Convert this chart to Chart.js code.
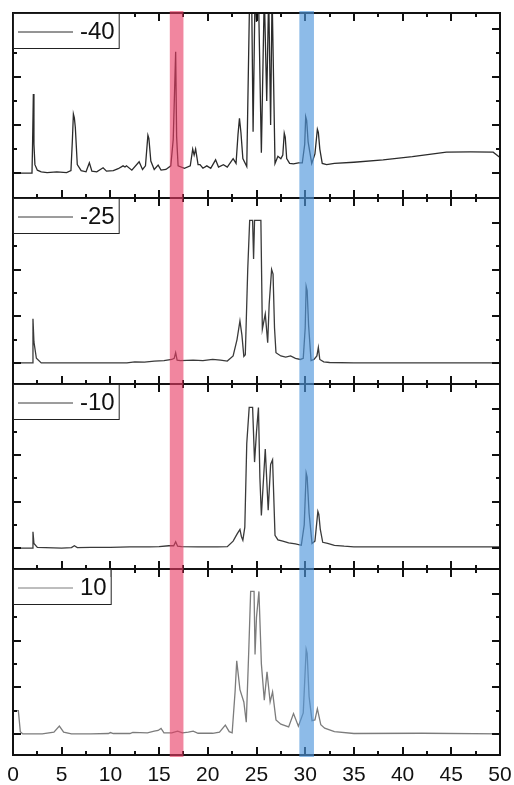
<!DOCTYPE html>
<html>
<head>
<meta charset="utf-8">
<script src="https://cdn.jsdelivr.net/npm/chart.js@4.4.1/dist/chart.umd.min.js"></script>
<style>
  body { margin: 0; background: #fff; }
  #fig { position: relative; width: 514px; height: 785px; }
  #fig canvas { position: absolute; left: 0; }
</style>
</head>
<body>
<div id="fig">
  <canvas id="c1" width="514" height="198" style="top:0px"></canvas>
  <canvas id="c2" width="514" height="186" style="top:198px"></canvas>
  <canvas id="c3" width="514" height="185" style="top:384px"></canvas>
  <canvas id="c4" width="514" height="216" style="top:569px"></canvas>
</div>
<script>
// series labels, top panel to bottom panel
const labels = ['-40', '-25', '-10', '10'];
const xTickValues = [0, 5, 10, 15, 20, 25, 30, 35, 40, 45, 50];
// highlighted ranges on the x axis (red, blue)
const bands = [[16.1, 17.5], [29.4, 30.9]];

const x_m40 = [0, 1.95, 2.0, 2.09, 2.15, 2.25, 2.5, 2.9, 3.5, 4.5, 5.5, 5.95, 6.1, 6.2, 6.3, 6.4, 6.6, 7.0, 7.5, 7.84, 8.1, 8.6, 9.25, 9.6, 10.3, 10.8, 11.3, 11.5, 11.65, 12.2, 12.95, 13.3, 13.6, 13.85, 13.95, 14.15, 14.5, 14.9, 15.2, 15.7, 16.2, 16.45, 16.7, 16.8, 16.95, 17.6, 18.2, 18.45, 18.6, 18.75, 19.0, 19.2, 19.5, 19.9, 20.3, 20.8, 21.1, 21.6, 22.0, 22.6, 22.9, 23.1, 23.25, 23.4, 23.6, 24.0, 24.3, 24.5, 24.65, 24.85, 25.0, 25.2, 25.5, 25.8, 26.05, 26.25, 26.45, 26.6, 26.9, 27.2, 27.5, 27.7, 27.85, 27.95, 28.1, 28.4, 28.8, 29.3, 29.7, 29.95, 30.05, 30.15, 30.3, 30.67, 31.0, 31.25, 31.35, 31.5, 31.75, 32.2, 33.0, 35.0, 38.0, 41.0, 44.5, 47.0, 49.3, 50];
const y_m40 = [0, 0, 1.0, 3.29, 1.2, 0.35, 0.12, 0.05, 0.02, 0.05, 0.02, 0.1, 1.4, 2.46, 2.3, 1.9, 0.35, 0.1, 0.05, 0.43, 0.08, 0.05, 0.22, 0.08, 0.1, 0.18, 0.3, 0.25, 0.3, 0.12, 0.47, 0.15, 0.3, 1.58, 1.45, 0.5, 0.15, 0.33, 0.12, 0.15, 0.3, 1.4, 5.05, 1.5, 0.3, 0.2, 0.3, 1.0, 0.75, 1.0, 0.35, 0.35, 0.2, 0.3, 0.2, 0.55, 0.25, 0.35, 0.25, 0.6, 0.4, 1.6, 2.28, 1.7, 0.6, 0.27, 7.5, 7.5, 1.72, 7.5, 6.3, 7.5, 0.85, 7.5, 3.0, 7.5, 2.0, 7.5, 0.4, 0.7, 0.6, 0.75, 1.66, 1.5, 0.6, 0.4, 0.38, 0.42, 0.42, 1.2, 2.35, 2.2, 1.3, 0.4, 0.8, 1.83, 1.7, 1.0, 0.4, 0.35, 0.4, 0.45, 0.55, 0.68, 0.87, 0.88, 0.87, 0.65];

const x_m25 = [0, 1.98, 2.05, 2.15, 2.4, 2.9, 5, 8, 11.7, 12.5, 13.5, 14.5, 15.5, 16.3, 16.55, 16.7, 16.85, 17.2, 18.5, 19.5, 20.5, 21.3, 22.0, 22.6, 23.0, 23.3, 23.5, 23.7, 23.85, 24.1, 24.3, 24.6, 24.7, 24.8, 24.95, 25.45, 25.6, 25.9, 26.15, 26.3, 26.55, 26.7, 26.85, 27.0, 27.5, 28.0, 28.5, 29.0, 29.5, 29.8, 30.0, 30.1, 30.2, 30.35, 30.6, 30.9, 31.2, 31.35, 31.5, 31.9, 32.5, 35, 50];
const y_m25 = [0, 0, 1.89, 0.9, 0.2, 0, 0, 0, 0, 0.05, 0.04, 0.08, 0.1, 0.15, 0.2, 0.44, 0.12, 0.1, 0.12, 0.1, 0.15, 0.12, 0.08, 0.3, 1.0, 1.8, 1.2, 0.28, 0.35, 4.0, 6.1, 6.1, 4.45, 6.1, 6.1, 6.1, 1.45, 2.1, 0.87, 2.5, 4.0, 3.8, 1.5, 0.44, 0.3, 0.25, 0.3, 0.2, 0.15, 0.2, 1.5, 3.28, 3.1, 1.6, 0.1, 0.15, 0.3, 0.66, 0.15, 0.05, 0.02, 0, 0];

const x_m10 = [0, 1.98, 2.05, 2.15, 2.5, 5, 6.0, 6.3, 6.6, 8, 10, 12, 14, 15, 16.0, 16.5, 16.7, 16.9, 17.3, 19, 21, 22.0, 22.6, 23.0, 23.3, 23.45, 23.6, 23.8, 24.0, 24.25, 24.6, 24.8, 25.0, 25.2, 25.35, 25.5, 25.9, 26.2, 26.45, 26.65, 26.9, 27.2, 27.7, 28.3, 29.0, 29.6, 29.9, 30.1, 30.2, 30.4, 30.7, 31.0, 31.3, 31.4, 31.55, 31.8, 32.3, 33.0, 34, 35, 50];
const y_m10 = [0, 0, 0.7, 0.2, 0.03, 0, 0.02, 0.1, 0.02, 0.03, 0.03, 0.05, 0.05, 0.06, 0.1, 0.1, 0.27, 0.08, 0.06, 0.05, 0.05, 0.06, 0.3, 0.6, 0.8, 0.5, 0.34, 0.9, 4.5, 6.05, 6.05, 3.7, 5.0, 6.05, 3.0, 1.4, 4.26, 1.63, 3.6, 3.8, 0.55, 0.35, 0.3, 0.22, 0.18, 0.12, 1.0, 3.23, 3.05, 1.5, 0.2, 0.3, 1.58, 1.45, 0.8, 0.25, 0.2, 0.12, 0.08, 0.05, 0.05];

const x_p10 = [0, 0.55, 0.75, 1.0, 3.0, 4.2, 4.76, 5.2, 6.0, 8, 9.8, 10.0, 10.3, 12, 12.3, 13.8, 14.5, 14.9, 15.2, 15.5, 16.3, 16.9, 17.4, 18.0, 18.5, 19.0, 20.5, 21.2, 21.8, 22.2, 22.5, 22.8, 22.97, 23.3, 23.7, 23.95, 24.2, 24.4, 24.75, 24.85, 25.0, 25.25, 25.5, 25.8, 26.08, 26.4, 26.65, 27.0, 27.5, 28.3, 28.8, 29.3, 29.8, 30.1, 30.2, 30.4, 30.7, 31.0, 31.25, 31.6, 32.0, 33.0, 35.0, 42, 50];
const y_p10 = [1.0, 1.0, 0.1, 0, 0, 0.08, 0.34, 0.08, 0, 0, 0.02, 0.06, 0.02, 0.02, 0.07, 0.05, 0.12, 0.15, 0.24, 0.05, 0.05, 0.12, 0.05, 0.08, 0.12, 0.03, 0.03, 0.08, 0.38, 0.1, 0.05, 1.8, 3.13, 1.9, 1.37, 0.5, 3.5, 6.1, 6.1, 3.4, 5.0, 6.1, 3.0, 1.45, 2.66, 1.37, 1.8, 0.6, 0.42, 0.3, 0.87, 0.33, 0.9, 3.62, 3.45, 1.6, 0.57, 0.6, 1.08, 0.4, 0.25, 0.1, 0.02, 0.03, 0];

const panels = [
  { id: 'c1', xs: x_m40, ys: y_m40, color: '#2b2b2b', yMin: -1.04, yMax: 6.67, pad: { left: 13, right: 14, top: 13, bottom: 0 } },
  { id: 'c2', xs: x_m25, ys: y_m25, color: '#3a3a3a', yMin: -0.9, yMax: 7.06, pad: { left: 13, right: 14, top: 0, bottom: 0 } },
  { id: 'c3', xs: x_m10, ys: y_m10, color: '#3a3a3a', yMin: -0.9, yMax: 7.06, pad: { left: 13, right: 14, top: 0, bottom: 0 } },
  { id: 'c4', xs: x_p10, ys: y_p10, color: '#7c7c7c', yMin: -0.9, yMax: 7.06, pad: { left: 13, right: 14, top: 0, bottom: 0 } }
];
const bandColors = ['rgba(232, 60, 100, 0.62)', 'rgba(80, 150, 220, 0.65)'];

// frame, inward ticks, boxed legend and the two shaded bands
const decorations = {
  id: 'decorations',
  afterDraw(chart) {
    const { ctx, chartArea: a, scales: { x, y } } = chart;
    ctx.save();
    ctx.strokeStyle = '#111';
    ctx.lineWidth = 2;
    ctx.strokeRect(a.left, a.top, a.right - a.left, a.bottom - a.top);

    const seg = (x0, y0, x1, y1) => { ctx.beginPath(); ctx.moveTo(x0, y0); ctx.lineTo(x1, y1); ctx.stroke(); };
    for (let v = 0; v <= 50; v += 2.5) {
      const px = Math.round(x.getPixelForValue(v));
      const len = v % 5 === 0 ? 8 : 4;
      seg(px, a.top, px, a.top + len);
      seg(px, a.bottom, px, a.bottom - len);
    }
    for (let v = 0; v <= 6; v++) {
      const py = Math.round(y.getPixelForValue(v));
      const len = v % 2 === 0 ? 8 : 4;
      seg(a.left, py, a.left + len, py);
      seg(a.right, py, a.right - len, py);
    }

    // legend box in the upper left corner
    const ds = chart.data.datasets[0];
    ctx.font = '24px "Liberation Sans", Arial, sans-serif';
    const tw = ctx.measureText(ds.label).width;
    const bx = a.left, by = a.top, bw = 5 + 55 + 7 + tw + 4, bh = 35;
    ctx.fillStyle = '#fff';
    ctx.fillRect(bx, by, bw, bh);
    ctx.lineWidth = 1;
    ctx.strokeStyle = '#222';
    ctx.strokeRect(bx + 0.5, by + 0.5, bw, bh);
    ctx.strokeStyle = ds.borderColor;
    seg(bx + 5, by + 19, bx + 60, by + 19);
    ctx.fillStyle = '#111';
    ctx.textBaseline = 'middle';
    ctx.fillText(ds.label, bx + 67, by + 19);

    bands.forEach((b, i) => {
      const x0 = x.getPixelForValue(b[0]);
      const x1 = x.getPixelForValue(b[1]);
      ctx.fillStyle = bandColors[i];
      ctx.fillRect(x0, a.top - 2, x1 - x0, a.bottom - a.top + 4);
    });
    ctx.restore();
  }
};

panels.forEach((p, i) => {
  const last = i === panels.length - 1;
  const xScale = {
    type: 'linear',
    min: 0,
    max: 50,
    display: last,
    afterBuildTicks: s => { s.ticks = xTickValues.map(v => ({ value: v })); },
    grid: { display: false, drawTicks: false },
    border: { display: false },
    ticks: {
      padding: 8,
      color: '#111',
      font: { family: '"Liberation Sans", Arial, sans-serif', size: 21 }
    }
  };
  if (last) {
    // fixed label strip; edge labels may hang over the padding
    xScale.afterFit = s => { s.height = 30; s.paddingLeft = 0; s.paddingRight = 0; };
  }
  new Chart(document.getElementById(p.id), {
    type: 'line',
    data: {
      datasets: [{
        label: labels[i],
        data: p.xs.map((xv, k) => ({ x: xv, y: p.ys[k] })),
        borderColor: p.color,
        borderWidth: 1.3,
        pointRadius: 0,
        tension: 0
      }]
    },
    options: {
      responsive: false,
      animation: false,
      devicePixelRatio: 1,
      layout: { padding: p.pad },
      plugins: { legend: { display: false }, tooltip: { enabled: false } },
      scales: {
        x: xScale,
        y: { min: p.yMin, max: p.yMax, display: false }
      }
    },
    plugins: [decorations]
  });
});
</script>
</body>
</html>
